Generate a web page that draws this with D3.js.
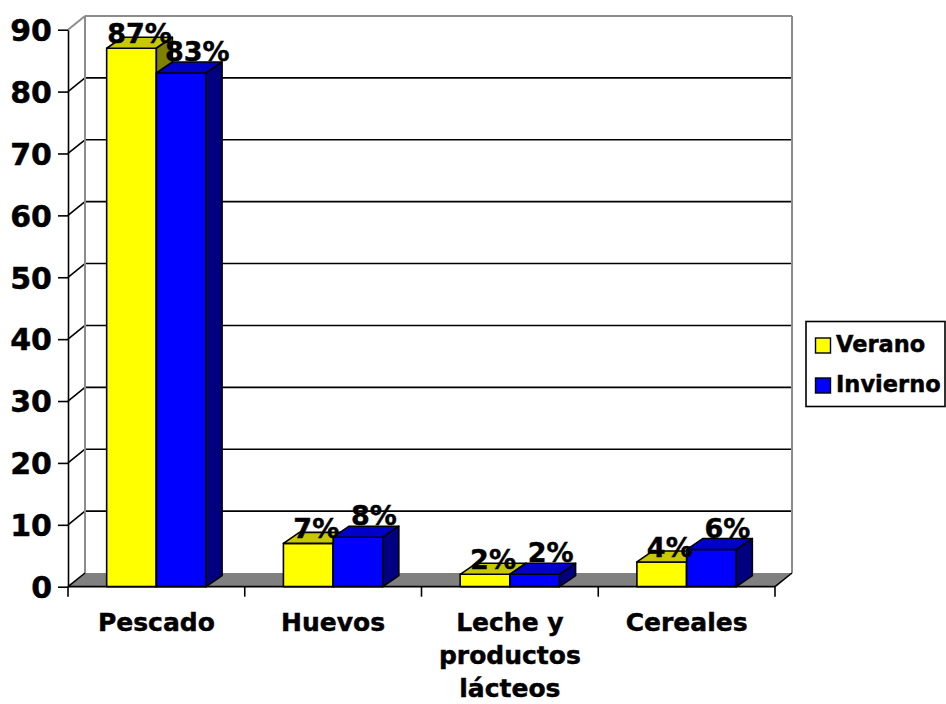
<!DOCTYPE html>
<html>
<head>
<meta charset="utf-8">
<script src="https://cdn.jsdelivr.net/npm/d3@7"></script>
<style>
  html, body { margin: 0; padding: 0; background: #fff; }
  svg { display: block; }
  text { font-family: "DejaVu Sans", Verdana, sans-serif; font-weight: bold; fill: #000;
         stroke: #000; stroke-width: 0.45px; }
</style>
</head>
<body>
<svg id="chart" width="946" height="704"></svg>
<script>
// Consumo por temporada (%)
const categories = ["Pescado", "Huevos", "Leche y productos lácteos", "Cereales"];
const seriesNames = ["Verano", "Invierno"];
const verano = [87, 7, 2, 4];
const invierno = [83, 8, 2, 6];
const yTicks = [0, 10, 20, 30, 40, 50, 60, 70, 80, 90];

const seriesValues = [verano, invierno];
const faceColors = {
  Verano:   { front: "#ffff00", top: "#c8c800", side: "#808000" },
  Invierno: { front: "#0000ff", top: "#0000c8", side: "#000080" }
};

const svg = d3.select("#chart");

// plot geometry (oblique 3D projection)
const plotL = 68, plotR = 775, plotB = 586.7, plotT = 29.7;
const wallDx = 17, wallDy = -13.7;   // depth of walls / floor
const barDx = 16, barDy = -11;       // depth of columns

const y = d3.scaleLinear().domain([0, 90]).range([plotB, plotT]);
const x = d3.scaleBand().domain(categories).range([plotL, plotR])
  .paddingInner(0.4375).paddingOuter(0.21875);
const xs = d3.scaleBand().domain(seriesNames).range([0, x.bandwidth()]).padding(0);

const gray = "#8c8c8c";

// back wall gridlines
const walls = svg.append("g");
yTicks.forEach(t => {
  const yy = y(t);
  const isTop = t === 90;
  if (t !== 0) {
    walls.append("line")
      .attr("x1", plotL + wallDx).attr("x2", plotR + wallDx)
      .attr("y1", yy + wallDy).attr("y2", yy + wallDy)
      .attr("stroke", isTop ? gray : "#000").attr("stroke-width", isTop ? 2 : 1.6);
    walls.append("line")
      .attr("x1", plotL).attr("y1", yy)
      .attr("x2", plotL + wallDx).attr("y2", yy + wallDy)
      .attr("stroke", isTop ? gray : "#000").attr("stroke-width", isTop ? 2 : 1.6);
  }
});
// wall edges
walls.append("line")
  .attr("x1", plotL + wallDx).attr("x2", plotL + wallDx)
  .attr("y1", y(90) + wallDy).attr("y2", y(0) + wallDy)
  .attr("stroke", gray).attr("stroke-width", 2);
walls.append("line")
  .attr("x1", plotR + wallDx).attr("x2", plotR + wallDx)
  .attr("y1", y(90) + wallDy).attr("y2", y(0) + wallDy)
  .attr("stroke", gray).attr("stroke-width", 2);

// floor
svg.append("path")
  .attr("d", d3.line()([
    [plotL, y(0)], [plotR, y(0)], [plotR + wallDx, y(0) + wallDy], [plotL + wallDx, y(0) + wallDy]
  ]) + "Z")
  .attr("fill", "#808080");
svg.append("line")
  .attr("x1", plotL).attr("y1", y(0)).attr("x2", plotL + wallDx).attr("y2", y(0) + wallDy)
  .attr("stroke", "#000").attr("stroke-width", 1.6);
svg.append("line")
  .attr("x1", plotR).attr("y1", y(0)).attr("x2", plotR + wallDx).attr("y2", y(0) + wallDy)
  .attr("stroke", "#000").attr("stroke-width", 1.6);

// columns
const bars = svg.append("g").attr("stroke", "#000").attr("stroke-width", 1.6).attr("stroke-linejoin", "round");
categories.forEach((c, i) => {
  seriesNames.forEach((s, j) => {
    const v = seriesValues[j][i];
    const x0 = x(c) + xs(s), w = xs.bandwidth();
    const yt = y(v), yb = y(0);
    const col = faceColors[s];
    const g = bars.append("g");
    g.append("rect").attr("x", x0).attr("y", yt).attr("width", w).attr("height", yb - yt)
      .attr("fill", col.front);
    g.append("path").attr("d", d3.line()([
      [x0, yt], [x0 + w, yt], [x0 + w + barDx, yt + barDy], [x0 + barDx, yt + barDy]
    ]) + "Z").attr("fill", col.top);
    g.append("path").attr("d", d3.line()([
      [x0 + w, yt], [x0 + w + barDx, yt + barDy], [x0 + w + barDx, yb + barDy], [x0 + w, yb]
    ]) + "Z").attr("fill", col.side);
  });
});

// y axis
const yAxis = svg.append("g").attr("transform", `translate(${plotL},0)`)
  .call(d3.axisLeft(y).tickValues(yTicks).tickSize(10).tickPadding(6).tickSizeOuter(0));
yAxis.select(".domain").attr("stroke", "#000").attr("stroke-width", 1.6);
yAxis.selectAll(".tick line").attr("stroke", "#000").attr("stroke-width", 1.6);
yAxis.selectAll(".tick text").style("font-size", "30px").style("font-weight", "bold")
  .style("font-family", '"DejaVu Sans", Verdana, sans-serif').attr("fill", "#000").attr("dy", "0.36em");

// x axis line and category boundary ticks
svg.append("line").attr("x1", plotL).attr("x2", plotR).attr("y1", y(0)).attr("y2", y(0))
  .attr("stroke", "#000").attr("stroke-width", 1.8);
const boundaries = categories.map(c => x(c) - x.step() * x.paddingInner() / 2)
  .concat([plotR]);
svg.append("g").selectAll("line").data(boundaries).join("line")
  .attr("x1", d => d).attr("x2", d => d)
  .attr("y1", y(0)).attr("y2", y(0) + 10)
  .attr("stroke", "#000").attr("stroke-width", 1.6);

// category labels (wrapped)
const catG = svg.append("g");
categories.forEach(c => {
  const cx = x(c) + x.bandwidth() / 2;
  const t = catG.append("text").attr("x", cx).attr("y", 631).attr("text-anchor", "middle")
    .style("font-size", "25px");
  const words = c.split(" ");
  let lines = [], line = [];
  const probe = t.append("tspan");
  words.forEach(wd => {
    const trial = line.concat([wd]).join(" ");
    probe.text(trial);
    if (probe.node().getComputedTextLength() > 150 && line.length) {
      lines.push(line.join(" "));
      line = [wd];
    } else {
      line.push(wd);
    }
  });
  lines.push(line.join(" "));
  probe.remove();
  lines.forEach((ln, k) => {
    t.append("tspan").attr("x", cx).attr("y", 631 + k * 33).text(ln);
  });
});

// value labels
const labelShift = { Verano: { dx: 8, dy: -5 }, Invierno: { dx: 16, dy: -12 } };
const lab = svg.append("g").attr("text-anchor", "middle").style("font-size", "27px");
categories.forEach((c, i) => {
  seriesNames.forEach((s, j) => {
    const v = seriesValues[j][i];
    const cx = x(c) + xs(s) + xs.bandwidth() / 2;
    lab.append("text")
      .attr("x", cx + labelShift[s].dx)
      .attr("y", y(v) + labelShift[s].dy)
      .text(v + "%");
  });
});

// legend
const lg = svg.append("g");
lg.append("rect").attr("x", 806).attr("y", 321.5).attr("width", 139).attr("height", 85)
  .attr("fill", "#fff").attr("stroke", "#000").attr("stroke-width", 1.6);
seriesNames.forEach((s, j) => {
  const yy = 338 + j * 40;
  lg.append("rect").attr("x", 815.5).attr("y", yy).attr("width", 15).attr("height", 15)
    .attr("fill", faceColors[s].front).attr("stroke", "#000").attr("stroke-width", 1.4);
  lg.append("text").attr("x", 836).attr("y", yy + 14).style("font-size", "22.5px").text(s);
});
</script>
</body>
</html>
